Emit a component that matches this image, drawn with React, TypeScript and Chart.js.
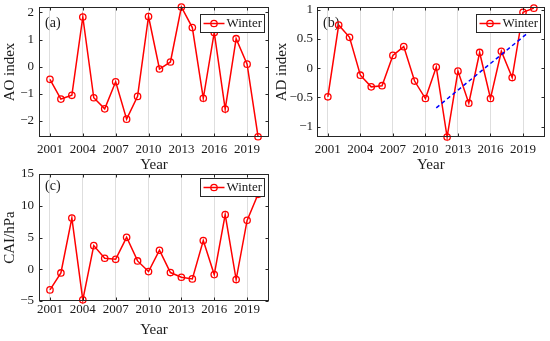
import React, { useEffect, useRef } from "react";
import { Chart, registerables } from "chart.js";

Chart.register(...registerables);

const FONT = "'Liberation Serif', 'Times New Roman', serif";
const RED = "#ff0000";
const INK = "#1a1a1a";

const years = [2001, 2002, 2003, 2004, 2005, 2006, 2007, 2008, 2009, 2010, 2011, 2012, 2013, 2014, 2015, 2016, 2017, 2018, 2019, 2020];
const aoWinter = [-0.47, -1.2, -1.06, 1.83, -1.15, -1.56, -0.56, -1.94, -1.1, 1.85, -0.09, 0.17, 2.2, 1.44, -1.17, 1.26, -1.57, 1.03, 0.09, -2.59];
const adWinter = [-0.49, 0.74, 0.53, -0.12, -0.32, -0.3, 0.22, 0.37, -0.22, -0.52, 0.02, -1.18, -0.05, -0.6, 0.27, -0.52, 0.29, -0.16, 0.96, 1.03];
const caiWinter = [-3.25, -0.58, 8.07, -4.82, 3.72, 1.73, 1.57, 5.03, 1.31, -0.37, 2.99, -0.52, -1.26, -1.52, 4.51, -0.84, 8.6, -1.62, 7.7, 11.8];
const adTrendYears = [2011, 2020];
const adTrendValues = [-0.68, 0.69];

const xTicks = [2001, 2004, 2007, 2010, 2013, 2016, 2019];
const aoTicks = [-2, -1, 0, 1, 2];
const adTicks = [-1, -0.5, 0, 0.5, 1];
const caiTicks = [-5, 0, 5, 10, 15];

const W = 550;
const H = 341;

type PanelSpec = {
  label: string;
  yTitle: string;
  values: number[];
  yTicks: number[];
  yMin: number;
  yMax: number;
  area: [number, number, number, number]; // left, top, right, bottom
  axisLeft: number; // where y-axis box starts
  axisBottom: number; // where x-axis box ends
  yTickPad: number;
  xTickPad: number;
  yTitlePad: number;
  xTitlePad: number;
  labelDx: number;
  labelDy: number;
  legendDx: number;
  legendDy: number;
  trend?: { x: number[]; y: number[] };
};

const fmt = (v: number) => (v < 0 ? "\u2212" + String(Math.abs(v)) : String(v));

const framePlugin = {
  id: "frame",
  beforeDatasetsDraw(chart: any, _args: any, opts: any) {
    const { ctx, chartArea: a } = chart;
    ctx.save();
    ctx.font = `14px ${FONT}`;
    ctx.fillStyle = INK;
    ctx.textBaseline = "middle";
    ctx.textAlign = "left";
    ctx.fillText(opts.label, a.left + opts.labelDx, a.top + opts.labelDy);
    ctx.restore();
  },
  afterDraw(chart: any, _args: any, opts: any) {
    const { ctx, chartArea: a, scales } = chart;
    const L = Math.round(a.left) + 0.5;
    const R = Math.round(a.right) - 0.5;
    const T = Math.round(a.top) + 0.5;
    const B = Math.round(a.bottom) - 0.5;
    ctx.save();
    ctx.strokeStyle = "#262626";
    ctx.lineWidth = 1;
    ctx.beginPath();
    const tl = 3;
    for (const t of scales.x.ticks) {
      const px = Math.round(scales.x.getPixelForValue(t.value)) + 0.5;
      ctx.moveTo(px, B);
      ctx.lineTo(px, B - tl);
      ctx.moveTo(px, T);
      ctx.lineTo(px, T + tl);
    }
    for (const t of scales.y.ticks) {
      const py = Math.round(scales.y.getPixelForValue(t.value)) + 0.5;
      ctx.moveTo(L, py);
      ctx.lineTo(L + tl, py);
      ctx.moveTo(R, py);
      ctx.lineTo(R - tl, py);
    }
    ctx.stroke();
    ctx.strokeRect(L, T, R - L, B - T);

    // legend
    const bw = 64;
    const bh = 18;
    const bx = Math.round(a.right - opts.legendDx - bw) + 0.5;
    const by = Math.round(a.top + opts.legendDy) + 0.5;
    ctx.fillStyle = "#ffffff";
    ctx.fillRect(bx, by, bw, bh);
    ctx.strokeStyle = "#262626";
    ctx.lineWidth = 1;
    ctx.strokeRect(bx, by, bw, bh);
    const cy = by + bh / 2;
    ctx.strokeStyle = RED;
    ctx.lineWidth = 1.5;
    ctx.beginPath();
    ctx.moveTo(bx + 3, cy);
    ctx.lineTo(bx + 24, cy);
    ctx.stroke();
    ctx.lineWidth = 1.3;
    ctx.beginPath();
    ctx.arc(bx + 13.5, cy, 3.2, 0, Math.PI * 2);
    ctx.stroke();
    ctx.fillStyle = INK;
    ctx.font = `13px ${FONT}`;
    ctx.textBaseline = "middle";
    ctx.textAlign = "left";
    ctx.fillText(chart.data.datasets.find((d: any) => d.label === "Winter").label, bx + 26, cy + 0.5);
    ctx.restore();
  },
};

function Panel({ spec }: { spec: PanelSpec }) {
  const ref = useRef<HTMLCanvasElement | null>(null);
  useEffect(() => {
    if (!ref.current) return;
    const [l, t, r, b] = spec.area;
    const datasets: any[] = [];
    if (spec.trend) {
      datasets.push({
        label: "trend",
        data: spec.trend.x.map((x, i) => ({ x, y: spec.trend!.y[i] })),
        borderColor: "#0000ff",
        borderWidth: 1.5,
        borderDash: [4, 3],
        pointRadius: 0,
        fill: false,
        clip: false,
      });
    }
    datasets.push({
      label: "Winter",
      data: years.map((x, i) => ({ x, y: spec.values[i] })),
      borderColor: RED,
      borderWidth: 1.5,
      pointRadius: 3.2,
      pointBorderWidth: 1.3,
      pointBorderColor: RED,
      pointBackgroundColor: "rgba(255,255,255,0)",
      pointStyle: "circle",
      tension: 0,
      fill: false,
      clip: false,
    });
    const chart = new Chart(ref.current, {
      type: "line",
      data: { datasets },
      plugins: [framePlugin as any],
      options: {
        responsive: false,
        maintainAspectRatio: false,
        animation: false,
        devicePixelRatio: 1,
        events: [],
        layout: {
          padding: { left: spec.axisLeft, top: t, right: W - r, bottom: H - spec.axisBottom },
        },
        plugins: {
          legend: { display: false },
          tooltip: { enabled: false },
          frame: {
            label: spec.label,
            labelDx: spec.labelDx,
            labelDy: spec.labelDy,
            legendDx: spec.legendDx,
            legendDy: spec.legendDy,
          },
        } as any,
        scales: {
          x: {
            type: "linear",
            min: 2000,
            max: 2021,
            afterBuildTicks: (s: any) => {
              s.ticks = xTicks.map((v) => ({ value: v }));
            },
            afterFit: (s: any) => {
              s.height = spec.axisBottom - b;
              s.paddingLeft = 0;
              s.paddingRight = 0;
              s.paddingTop = 0;
              s.paddingBottom = 0;
            },
            grid: { display: true, color: "#dedede", lineWidth: 1, drawTicks: false },
            border: { display: false },
            ticks: {
              autoSkip: false,
              maxRotation: 0,
              minRotation: 0,
              padding: spec.xTickPad,
              color: INK,
              font: { family: FONT, size: 13 },
              callback: (v: any) => String(v),
            },
            title: {
              display: true,
              text: "Year",
              color: INK,
              font: { family: FONT, size: 15 },
              padding: { top: 0, bottom: spec.xTitlePad },
            },
          },
          y: {
            type: "linear",
            min: spec.yMin,
            max: spec.yMax,
            afterBuildTicks: (s: any) => {
              s.ticks = spec.yTicks.map((v) => ({ value: v }));
            },
            afterFit: (s: any) => {
              s.width = l - spec.axisLeft;
              s.paddingLeft = 0;
              s.paddingRight = 0;
              s.paddingTop = 0;
              s.paddingBottom = 0;
            },
            grid: { display: false, drawTicks: false },
            border: { display: false },
            ticks: {
              padding: spec.yTickPad,
              color: INK,
              font: { family: FONT, size: 13 },
              callback: (v: any) => fmt(Number(v)),
            },
            title: {
              display: true,
              text: spec.yTitle,
              color: INK,
              font: { family: FONT, size: 15 },
              padding: { top: spec.yTitlePad, bottom: 0 },
            },
          },
        },
      },
    });
    return () => chart.destroy();
  }, [spec]);
  return (
    <canvas
      ref={ref}
      width={W}
      height={H}
      style={{ position: "absolute", left: 0, top: 0, width: W, height: H }}
    />
  );
}

const panels: PanelSpec[] = [
  {
    label: "(a)",
    yTitle: "AO index",
    values: aoWinter,
    yTicks: aoTicks,
    yMin: -2.6,
    yMax: 2.2,
    area: [39, 7, 269, 137],
    axisLeft: 0,
    axisBottom: 176,
    yTickPad: 5,
    xTickPad: 5,
    yTitlePad: 1,
    xTitlePad: 2,
    labelDx: 6,
    labelDy: 16,
    legendDx: 5,
    legendDy: 7,
  },
  {
    label: "(b)",
    yTitle: "AD index",
    values: adWinter,
    yTicks: adTicks,
    yMin: -1.18,
    yMax: 1.05,
    area: [317, 7, 546, 137],
    axisLeft: 270,
    axisBottom: 176,
    yTickPad: 4,
    xTickPad: 5,
    yTitlePad: 3,
    xTitlePad: 2,
    labelDx: 6,
    labelDy: 16,
    legendDx: 5,
    legendDy: 7,
    trend: { x: adTrendYears, y: adTrendValues },
  },
  {
    label: "(c)",
    yTitle: "CAI/hPa",
    values: caiWinter,
    yTicks: caiTicks,
    yMin: -5,
    yMax: 15,
    area: [39, 174, 269, 301],
    axisLeft: 0,
    axisBottom: 341,
    yTickPad: 5,
    xTickPad: 1,
    yTitlePad: 1,
    xTitlePad: 2,
    labelDx: 6,
    labelDy: 12,
    legendDx: 5,
    legendDy: 4,
  },
];

export default function App() {
  return (
    <div style={{ position: "fixed", left: 0, top: 0, width: W, height: H, background: "#fff" }}>
      {panels.map((p) => (
        <Panel key={p.label} spec={p} />
      ))}
    </div>
  );
}
